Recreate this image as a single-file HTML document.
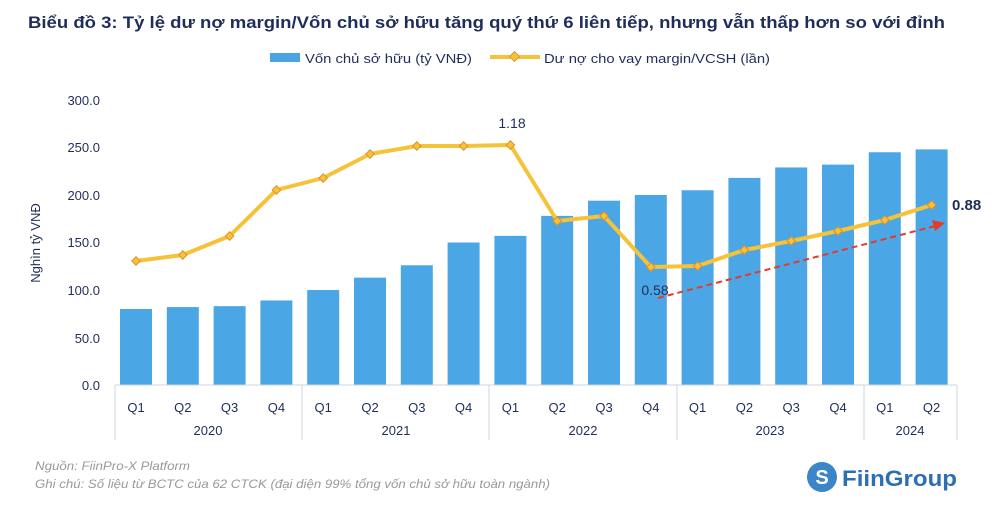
<!DOCTYPE html>
<html><head><meta charset="utf-8"><style>
body{margin:0;background:#fff;width:1000px;height:501px;overflow:hidden;font-family:"Liberation Sans",sans-serif}
</style></head><body>
<svg width="1000" height="501" xmlns="http://www.w3.org/2000/svg" font-family="Liberation Sans, sans-serif">
<text x="28" y="28" font-size="17" font-weight="bold" fill="#1f2d5a" textLength="917" lengthAdjust="spacingAndGlyphs">Biểu đồ 3: Tỷ lệ dư nợ margin/Vốn chủ sở hữu tăng quý thứ 6 liên tiếp, nhưng vẫn thấp hơn so với đỉnh</text>
<rect x="270" y="53" width="30" height="9" fill="#4aa3e3"/>
<text x="305" y="63" font-size="13" fill="#1f2d5a" textLength="167" lengthAdjust="spacingAndGlyphs">Vốn chủ sở hữu (tỷ VNĐ)</text>
<line x1="490" y1="57" x2="540" y2="57" stroke="#f5c23a" stroke-width="4"/>
<rect x="511" y="53" width="7" height="7" transform="rotate(45 514.5 56.5)" fill="#f5c23a" stroke="#e09a30"/>
<text x="544" y="63" font-size="13" fill="#1f2d5a" textLength="226" lengthAdjust="spacingAndGlyphs">Dư nợ cho vay margin/VCSH (lần)</text>
<g font-size="13" fill="#1f2d5a" text-anchor="end">
<text x="100" y="105">300.0</text><text x="100" y="152">250.0</text><text x="100" y="200">200.0</text>
<text x="100" y="247">150.0</text><text x="100" y="295">100.0</text><text x="100" y="343">50.0</text><text x="100" y="390">0.0</text>
</g>
<text transform="translate(40 243) rotate(-90)" font-size="13" fill="#1f2d5a" text-anchor="middle">Nghìn tỷ VNĐ</text>
<g fill="#4ba6e6" id="bars"></g>
<g stroke="#ccd3dc" stroke-width="1">
<line x1="115" y1="385" x2="957" y2="385"/>
<line x1="115" y1="385" x2="115" y2="440"/><line x1="302" y1="385" x2="302" y2="440"/>
<line x1="489" y1="385" x2="489" y2="440"/><line x1="677" y1="385" x2="677" y2="440"/>
<line x1="864" y1="385" x2="864" y2="440"/><line x1="957" y1="385" x2="957" y2="440"/>
</g>
<g id="q" font-size="13" fill="#1f2d5a" text-anchor="middle"></g>
<g font-size="13" fill="#1f2d5a" text-anchor="middle">
<text x="208" y="435">2020</text><text x="396" y="435">2021</text><text x="583" y="435">2022</text><text x="770" y="435">2023</text><text x="910" y="435">2024</text>
</g>
<polyline id="ln" fill="none" stroke="#f5c23a" stroke-width="4" stroke-linejoin="round"/>
<g id="mk" fill="#f5c23a" stroke="#e0912a" stroke-width="1"></g>
<line x1="658" y1="298" x2="935" y2="226" stroke="#e23b2a" stroke-width="2" stroke-dasharray="6,4"/>
<polygon points="945,223 932,220 935,231" fill="#e23b2a"/>
<text x="512" y="128" font-size="14" fill="#1f2d5a" text-anchor="middle">1.18</text>
<text x="655" y="295" font-size="14" fill="#1f2d5a" text-anchor="middle">0.58</text>
<text x="952" y="210" font-size="15" font-weight="bold" fill="#1f2d5a">0.88</text>
<text x="35" y="470" font-size="12" font-style="italic" fill="#999" textLength="155" lengthAdjust="spacingAndGlyphs">Nguồn: FiinPro-X Platform</text>
<text x="35" y="488" font-size="12" font-style="italic" fill="#999" textLength="515" lengthAdjust="spacingAndGlyphs">Ghi chú: Số liệu từ BCTC của 62 CTCK (đại diện 99% tổng vốn chủ sở hữu toàn ngành)</text>
<circle cx="822" cy="477" r="15" fill="#3a86c8"/>
<text x="822" y="484" font-size="20" font-weight="bold" fill="#fff" text-anchor="middle">S</text>
<text x="842" y="486" font-size="22" font-weight="bold" fill="#2e6fb0" textLength="115" lengthAdjust="spacingAndGlyphs">FiinGroup</text>
</svg>
<script>
var ns="http://www.w3.org/2000/svg";
var v=[80,82,83,89,100,113,126,150,157,178,194,200,205,218,229,232,245,248];
var ly=[261,255,236,190,178,154,146,146,145,221,216,267,266,250,241,231,220,205];
var b=document.getElementById("bars"),q=document.getElementById("q"),m=document.getElementById("mk"),pts=[];
for(var i=0;i<18;i++){var cx=136+i*46.8,h=v[i]*0.95;
var r=document.createElementNS(ns,"rect");r.setAttribute("x",cx-16);r.setAttribute("y",385-h);r.setAttribute("width",32);r.setAttribute("height",h);b.appendChild(r);
var t=document.createElementNS(ns,"text");t.setAttribute("x",cx);t.setAttribute("y",412);t.textContent="Q"+(i%4+1);q.appendChild(t);
pts.push(cx+","+ly[i]);
var d=document.createElementNS(ns,"rect");d.setAttribute("x",cx-3);d.setAttribute("y",ly[i]-3);d.setAttribute("width",6);d.setAttribute("height",6);d.setAttribute("transform","rotate(45 "+cx+" "+ly[i]+")");m.appendChild(d);}
document.getElementById("ln").setAttribute("points",pts.join(" "));
</script>
</body></html>
